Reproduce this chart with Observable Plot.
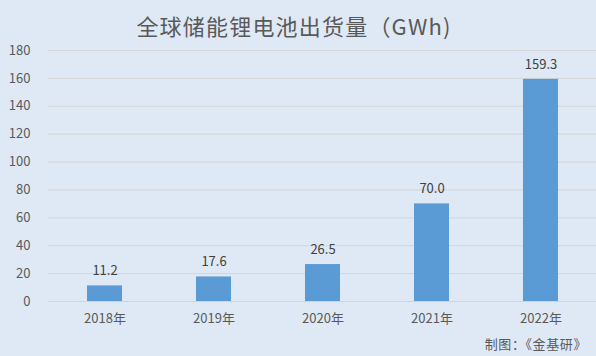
<!DOCTYPE html>
<html><head><meta charset="utf-8">
<script src="https://cdn.jsdelivr.net/npm/d3@7"></script>
<script src="https://cdn.jsdelivr.net/npm/@observablehq/plot@0.6"></script>
<style>
html,body{margin:0;padding:0;background:#dfe9f5;}
#wrap{width:596px;height:356px;position:relative;overflow:hidden;background:#dfe9f5;font-family:"Noto Sans CJK SC","Noto Sans",sans-serif;}
#title{height:40px;line-height:50px;text-align:center;font-size:22px;color:#595959;letter-spacing:1.2px;padding-right:8px;}
#caption{position:absolute;right:9px;top:334px;font-size:13px;color:#595959;letter-spacing:0.6px;}
svg{display:block;}
</style></head>
<body><div id="wrap"><div id="title">全球储能锂电池出货量（GWh)</div><div id="chart"></div><div id="caption">制图：《金基研》</div></div>
<script>
const years = ["2018年","2019年","2020年","2021年","2022年"];
const values = [11.2, 17.6, 26.5, 70.0, 159.3];
const yTicks = [0,20,40,60,80,100,120,140,160,180];
const data = years.map((y,i)=>({year:y, v:values[i]}));
const font = '"Noto Sans CJK SC","Noto Sans",sans-serif';
const chart = Plot.plot({
  width:596, height:296,
  marginLeft:48, marginRight:0, marginTop:10, marginBottom:35,
  style:{background:"transparent", fontFamily:font, fontSize:"13px", color:"#595959"},
  x:{domain:years, paddingInner:0.68, paddingOuter:0.34, label:null},
  y:{domain:[0,180], label:null},
  marks:[
    Plot.gridY(yTicks,{stroke:"#d4d4d4", strokeOpacity:1}),
    Plot.barY(data,{x:"year", y:"v", fill:"#5b9bd5"}),
    Plot.text(data,{x:"year", y:"v", text:d=>d.v.toFixed(1), dy:-15, fill:"#404040", fontSize:13}),
    Plot.axisY(yTicks,{tickSize:0, tickPadding:18, label:null, fill:"#595959", fontSize:13}),
    Plot.axisX({tickSize:0, tickPadding:12, label:null, fill:"#595959", fontSize:13})
  ]
});
document.getElementById("chart").appendChild(chart);
</script></body></html>
